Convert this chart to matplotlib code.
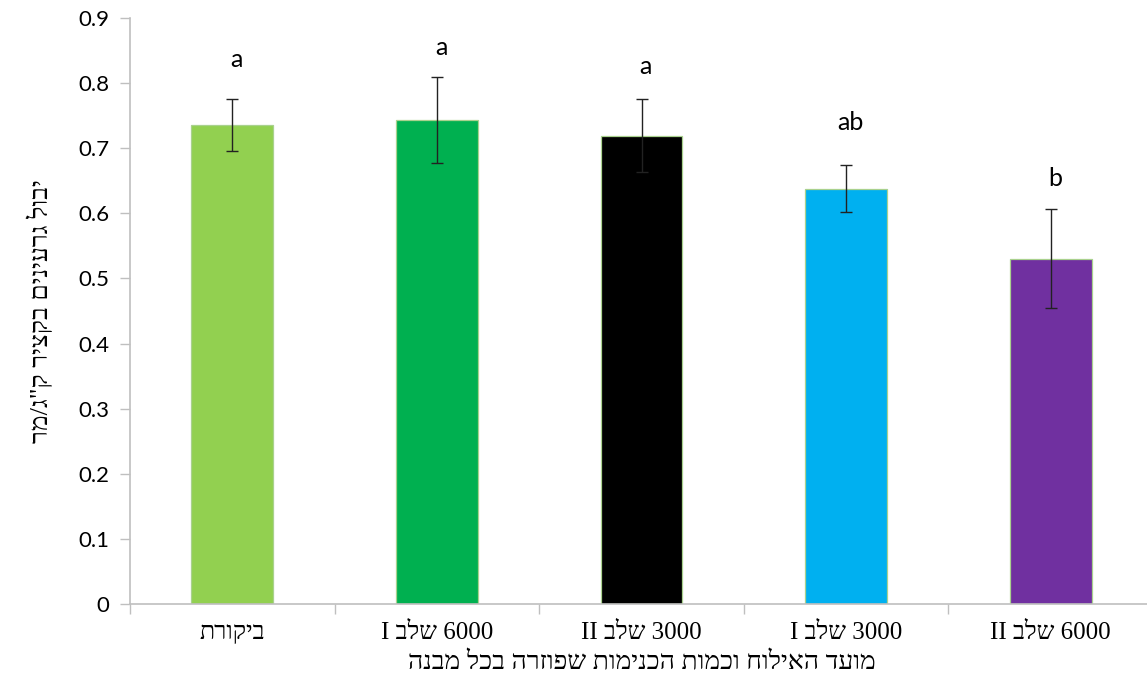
import numpy as np
import matplotlib.pyplot as plt

# yield per treatment (logical Hebrew order, flipped for display below)
categories = ["ביקורת", "6000 שלב I", "3000 שלב II", "3000 שלב I", "6000 שלב II"]
means = [0.735, 0.743, 0.719, 0.638, 0.530]
errors = [0.040, 0.066, 0.056, 0.036, 0.076]
letters = ["a", "a", "a", "ab", "b"]
letter_y = [0.836, 0.855, 0.826, 0.740, 0.654]
colors = ["#92D050", "#00B050", "#000000", "#00B0F0", "#7030A0"]

ylabel = 'יבול גרעינים בקציר ק"ג/מר'
xlabel = "מועד האילוח וכמות הכנימות שפוזרה בכל מבנה"


def is_heb(s):
    return any("\u0590" <= c <= "\u05FF" for c in s)


def visual(s):
    # crude bidi: reverse word order, flip letters of hebrew words
    words = s.split(" ")
    out = [w[::-1] if is_heb(w) else w for w in reversed(words)]
    return " ".join(out)


heb_font = ["Liberation Serif", "DejaVu Sans"]
num_font = ["Lato", "DejaVu Sans"]
grey = "#BFBFBF"

fig = plt.figure(figsize=(11.47, 6.81), dpi=100)
ax = fig.add_axes([130 / 1147, 77 / 681, 1023 / 1147, 586 / 681])

x = np.arange(len(categories))
ax.bar(x, means, width=0.4, color=colors, edgecolor="#A9D18E", linewidth=0.9, zorder=2)
ax.errorbar(x, means, yerr=errors, fmt="none", ecolor="#222222", elinewidth=1.0,
            capsize=4, capthick=1.0, zorder=3)

for xi, lab, ly in zip(x, letters, letter_y):
    ax.text(xi + 0.02, ly, lab, ha="center", va="center", fontsize=18,
            family=num_font, color="black")

ax.set_xlim(-0.5, 4.5)
ax.set_ylim(0, 0.9)
ax.set_yticks(np.arange(0, 0.91, 0.1))
ax.set_yticklabels(["0"] + ["%.1f" % v for v in np.arange(0.1, 0.91, 0.1)],
                   family=num_font, fontsize=16)

# category labels centred, ticks on the boundaries
ax.set_xticks(np.arange(-0.5, 4.6, 1.0))
ax.set_xticklabels([])
ax.tick_params(axis="x", which="major", length=7, color=grey, width=1)
ax.set_xticks(x, minor=True)
ax.set_xticklabels([visual(c) for c in categories], minor=True,
                   family=heb_font, fontsize=18)
ax.tick_params(axis="x", which="minor", length=0, pad=13)
ax.tick_params(axis="y", length=7, color=grey, width=1, pad=8)

for s in ["top", "right"]:
    ax.spines[s].set_visible(False)
for s in ["left", "bottom"]:
    ax.spines[s].set_color(grey)
    ax.spines[s].set_linewidth(1.2)

ax.set_xlabel(visual(xlabel), family=heb_font, fontsize=19, labelpad=6)
ax.set_ylabel(visual(ylabel), family=heb_font, fontsize=19, labelpad=18)

fig.savefig("out.png", dpi=100)
